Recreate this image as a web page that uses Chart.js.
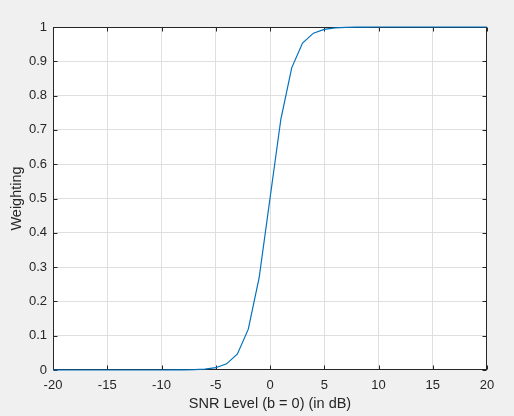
<!DOCTYPE html>
<html>
<head>
<meta charset="utf-8">
<script src="https://cdn.jsdelivr.net/npm/chart.js@4/dist/chart.umd.min.js"></script>
<style>
  html, body { margin: 0; padding: 0; background: #f0f0f0; }
  #wrap { width: 514px; height: 416px; }
</style>
</head>
<body>
<div id="wrap"><canvas id="c" width="514" height="416"></canvas></div>
<script>
// SNR levels (dB)
const snrLevels = [-20,-19,-18,-17,-16,-15,-14,-13,-12,-11,-10,-9,-8,-7,-6,-5,-4,-3,-2,-1,0,1,2,3,4,5,6,7,8,9,10,11,12,13,14,15,16,17,18,19,20];
// Weighting values
const weighting = [0,0,0,0,0,0,0,0,0,0,0.0000,0.0001,0.0003,0.0009,0.0025,0.0067,0.018,0.047,0.119,0.269,0.5,0.731,0.881,0.953,0.982,0.993,0.9975,0.9991,0.9997,0.9999,1,1,1,1,1,1,1,1,1,1,1];
// Tick labels
const xTicks = [-20,-15,-10,-5,0,5,10,15,20];
const yTicks = [0,0.1,0.2,0.3,0.4,0.5,0.6,0.7,0.8,0.9,1];
const xTitle = 'SNR Level (b = 0) (in dB)';
const yTitle = 'Weighting';

const FONT = "'Liberation Sans', Arial, Helvetica, sans-serif";

const boxPlugin = {
  id: 'boxPlugin',
  beforeDraw(chart) {
    const {ctx, chartArea: a} = chart;
    ctx.save();
    ctx.fillStyle = '#ffffff';
    ctx.fillRect(a.left, a.top, a.right - a.left, a.bottom - a.top);
    ctx.restore();
  },
  beforeDatasetsDraw(chart) {
    const {ctx, chartArea: a, scales} = chart;
    ctx.save();
    ctx.strokeStyle = '#262626';
    ctx.lineWidth = 1;
    const L = Math.round(a.left) + 0.5, R = Math.round(a.right) - 0.5;
    const T = Math.round(a.top) + 0.5, B = Math.round(a.bottom) - 0.5;
    ctx.strokeRect(L, T, R - L, B - T);
    const tl = 4;
    ctx.beginPath();
    xTicks.forEach(v => {
      const x = Math.round(scales.x.getPixelForValue(v)) + 0.5;
      ctx.moveTo(x, B); ctx.lineTo(x, B - tl);
      ctx.moveTo(x, T); ctx.lineTo(x, T + tl);
    });
    yTicks.forEach(v => {
      const y = Math.round(scales.y.getPixelForValue(v)) + 0.5;
      ctx.moveTo(L, y); ctx.lineTo(L + tl, y);
      ctx.moveTo(R, y); ctx.lineTo(R - tl, y);
    });
    ctx.stroke();
    ctx.restore();
  }
};

const gridColor = (first, last) => c =>
  (c.tick && (c.tick.value === first || c.tick.value === last)) ? 'rgba(0,0,0,0)' : '#dfdfdf';

new Chart(document.getElementById('c'), {
  type: 'line',
  data: {
    datasets: [{
      data: snrLevels.map((x, i) => ({x: x, y: weighting[i]})),
      borderColor: '#0072BD',
      borderWidth: 1.2,
      pointRadius: 0,
      fill: false,
      tension: 0,
      clip: false
    }]
  },
  plugins: [boxPlugin],
  options: {
    responsive: false,
    animation: false,
    devicePixelRatio: 1,
    layout: { padding: { left: 0, top: 27, right: 27, bottom: 0 } },
    plugins: { legend: { display: false }, tooltip: { enabled: false } },
    scales: {
      x: {
        type: 'linear',
        min: -20, max: 20,
        afterBuildTicks: s => { s.ticks = xTicks.map(v => ({value: v})); },
        afterFit: s => { s.height = 46; },
        ticks: { callback: v => String(v), color: '#262626', padding: 8, font: { family: FONT, size: 13 }, maxRotation: 0 },
        grid: { color: gridColor(xTicks[0], xTicks[xTicks.length - 1]), drawTicks: false },
        border: { display: false },
        title: { display: true, text: xTitle, color: '#262626', font: { family: FONT, size: 14.5 }, padding: { top: 0, bottom: 3 } }
      },
      y: {
        type: 'linear',
        min: 0, max: 1,
        afterBuildTicks: s => { s.ticks = yTicks.map(v => ({value: v})); },
        afterFit: s => { s.width = 53; },
        ticks: { callback: v => String(v), color: '#262626', padding: 6, font: { family: FONT, size: 13 } },
        grid: { color: gridColor(yTicks[0], yTicks[yTicks.length - 1]), drawTicks: false },
        border: { display: false },
        title: { display: true, text: yTitle, color: '#262626', font: { family: FONT, size: 14.5 }, padding: { top: 8, bottom: 0 } }
      }
    }
  }
});
</script>
</body>
</html>
